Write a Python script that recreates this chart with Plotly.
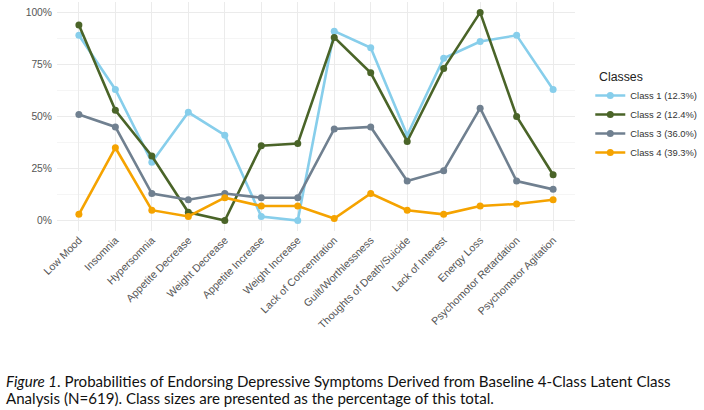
import plotly.graph_objects as go

symptoms = ["Low Mood", "Insomnia", "Hypersomnia", "Appetite Decrease", "Weight Decrease",
            "Appetite Increase", "Weight Increase", "Lack of Concentration", "Guilt/Worthlessness",
            "Thoughts of Death/Suicide", "Lack of Interest", "Energy Loss",
            "Psychomotor Retardation", "Psychomotor Agitation"]

class1 = [0.89, 0.63, 0.28, 0.52, 0.41, 0.02, 0.00, 0.91, 0.83, 0.41, 0.78, 0.86, 0.89, 0.63]
class2 = [0.94, 0.53, 0.31, 0.04, 0.00, 0.36, 0.37, 0.88, 0.71, 0.38, 0.73, 1.00, 0.50, 0.22]
class3 = [0.51, 0.45, 0.13, 0.10, 0.13, 0.11, 0.11, 0.44, 0.45, 0.19, 0.24, 0.54, 0.19, 0.15]
class4 = [0.03, 0.35, 0.05, 0.02, 0.11, 0.07, 0.07, 0.01, 0.13, 0.05, 0.03, 0.07, 0.08, 0.10]

names = ["Class 1 (12.3%)", "Class 2 (12.4%)", "Class 3 (36.0%)", "Class 4 (39.3%)"]
colors = ["#87CEEB", "#4A6428", "#708090", "#F5A300"]
series = [class1, class2, class3, class4]

caption1 = "<i>Figure 1</i>. Probabilities of Endorsing Depressive Symptoms Derived from Baseline 4-Class Latent Class"
caption2 = "Analysis (N=619). Class sizes are presented as the percentage of this total."

fig = go.Figure()
for nm, col, vals in zip(names, colors, series):
    fig.add_trace(go.Scatter(x=symptoms, y=vals, name=nm, mode="lines+markers",
                             line=dict(color=col, width=2.6),
                             marker=dict(color=col, size=7)))

fig.update_layout(
    width=704, height=410,
    margin=dict(l=57, r=119, t=2, b=179),
    paper_bgcolor="white", plot_bgcolor="white",
    font=dict(family="Liberation Sans, Arial, sans-serif", color="#4d4d4d", size=10),
    legend=dict(title=dict(text="\u00a0\u00a0Classes", font=dict(size=12.3, color="#222")),
                x=1.0295, y=0.725, xanchor="left", yanchor="top",
                font=dict(size=9.4, color="#333"), tracegroupgap=0, itemwidth=30),
    showlegend=True,
)
fig.update_xaxes(range=[-0.6, 13.6], tickangle=-45, showgrid=True, gridcolor="#ebebeb",
                 gridwidth=1, zeroline=False, showline=False, ticks="",
                 tickfont=dict(size=10.6, color="#555555"))
fig.update_yaxes(range=[-0.05, 1.05], tickvals=[0, 0.25, 0.5, 0.75, 1.0],
                 ticktext=["0%", "25%", "50%", "75%", "100%"],
                 showgrid=True, gridcolor="#ebebeb", gridwidth=1, zeroline=False,
                 showline=False, ticks="", tickfont=dict(size=10.3, color="#555555"),
                 ticklabelstandoff=4,
                 minor=dict(tickvals=[0.125, 0.375, 0.625, 0.875], showgrid=True,
                            gridcolor="#f5f5f5", gridwidth=1))

for txt, yy in [(caption1, -0.6539), (caption2, -0.728)]:
    fig.add_annotation(
        xref="paper", yref="paper", x=-0.1016, y=yy, xanchor="left", yanchor="middle",
        align="left", showarrow=False, text=txt,
        font=dict(family="Lato, sans-serif", size=15.1, color="#111"),
    )

fig.write_html("out.html")
